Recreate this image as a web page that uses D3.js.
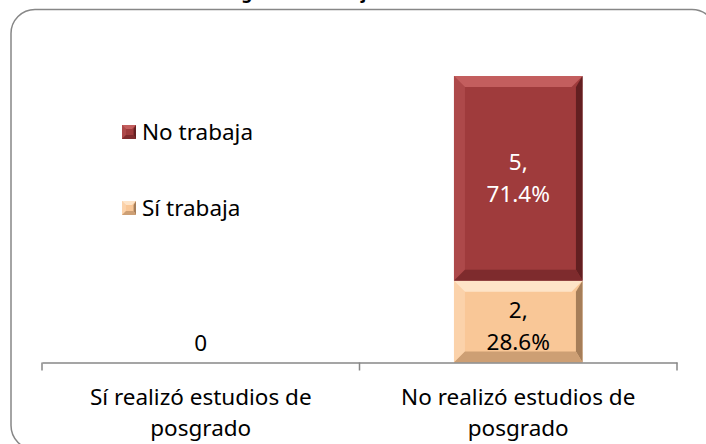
<!DOCTYPE html>
<head>
  <meta charset="utf-8">
  <script src='https://d3js.org/d3.v7.min.js'></script>
  <style>
    body {
      font-family: "Noto Sans", "Open Sans", Arial, sans-serif;
      margin: 0;
      background: #fff;
    }
  </style>
</head>

<body>
<div id='vis'></div>

<script>
const categories = ['Sí realizó estudios de posgrado', 'No realizó estudios de posgrado'];
const seriesNames = ['Sí trabaja', 'No trabaja'];
const siTrabaja = [0, 2];
const noTrabaja = [0, 5];
const pctSi = ['', '28.6%'];
const pctNo = ['', '71.4%'];

const width = 706;
const height = 444;
const fontSize = '22.5px';

const colours = {
  'No trabaja': { main: '#9f3b3c', light: '#c35e5e', dark: '#5c1d1e', bottom: '#7a2a2b' },
  'Sí trabaja': { main: '#f9c797', light: '#fee4c8', dark: '#9c7552', bottom: '#c89a70' }
};

const svg = d3.select('#vis').append('svg')
  .attr('width', width)
  .attr('height', height);

// chart frame
svg.append('rect')
  .attr('x', 11).attr('y', 9.5)
  .attr('width', 705).attr('height', 440)
  .attr('rx', 24).attr('ry', 24)
  .attr('fill', 'none')
  .attr('stroke', '#878787')
  .attr('stroke-width', 1.5);

// title, cut by the top of the picture as in the source
svg.append('text')
  .attr('x', 358).attr('y', -1)
  .attr('text-anchor', 'middle')
  .style('font-weight', 'bold')
  .style('font-size', '17px')
  .text('Figura 26. Trabaja actualmente');

const x = d3.scaleBand()
  .domain(categories)
  .range([42, 677])
  .paddingInner(0)
  .paddingOuter(0);

const y = d3.scaleLinear()
  .domain([0, 7])
  .range([362.5, 76]);

const barW = x.bandwidth() * 0.405;

const stacked = d3.stack().keys(seriesNames)(categories.map((c, i) => ({
  cat: c, 'Sí trabaja': siTrabaja[i], 'No trabaja': noTrabaja[i]
})));

function bevelBar(g, x0, y0, w, h, col, b) {
  const x1 = x0 + w, y1 = y0 + h;
  g.append('rect').attr('x', x0).attr('y', y0).attr('width', w).attr('height', h).attr('fill', col.main);
  const poly = (pts, fill, op) => g.append('polygon')
    .attr('points', pts.map(p => p.join(',')).join(' '))
    .attr('fill', fill).attr('opacity', op);
  poly([[x0, y0], [x1, y0], [x1 - b, y0 + b], [x0 + b, y0 + b]], col.light, 1);
  poly([[x0, y0], [x0 + b, y0 + b], [x0 + b, y1 - b], [x0, y1]], col.light, 0.4);
  poly([[x1, y0], [x1, y1], [x1 - b * 0.6, y1 - b], [x1 - b * 0.6, y0 + b]], col.dark, 0.9);
  poly([[x0, y1], [x0 + b, y1 - b], [x1 - b * 0.6, y1 - b], [x1, y1]], col.bottom, 0.9);
}

const bars = svg.append('g');
stacked.forEach(layer => {
  layer.forEach((d, i) => {
    const v = d[1] - d[0];
    if (v <= 0) return;
    const x0 = x(categories[i]) + (x.bandwidth() - barW) / 2;
    bevelBar(bars, x0, y(d[1]), barW, y(d[0]) - y(d[1]), colours[layer.key], 11);
  });
});

// data labels
const labels = svg.append('g').style('font-size', fontSize).attr('text-anchor', 'middle');
categories.forEach((c, i) => {
  const cx = x(c) + x.bandwidth() / 2;
  const total = siTrabaja[i] + noTrabaja[i];
  if (total === 0) {
    labels.append('text').attr('x', cx).attr('y', y(0) - 12).text('0');
    return;
  }
  const midSi = (y(0) + y(siTrabaja[i])) / 2;
  const midNo = (y(siTrabaja[i]) + y(total)) / 2;
  labels.append('text').attr('x', cx).attr('y', midSi - 4).text(siTrabaja[i] + ',');
  labels.append('text').attr('x', cx).attr('y', midSi + 28).text(pctSi[i]);
  labels.append('text').attr('x', cx).attr('y', midNo - 8).attr('fill', '#fff').text(noTrabaja[i] + ',');
  labels.append('text').attr('x', cx).attr('y', midNo + 24).attr('fill', '#fff').text(pctNo[i]);
});

// category axis
const axis = svg.append('g').attr('transform', `translate(0,${y(0)})`)
  .call(d3.axisBottom(x).tickSize(0).tickFormat(''));
axis.select('.domain').attr('stroke', '#878787').attr('stroke-width', 1.5);
const tickPos = [42, x(categories[1]), 677];
svg.append('g').selectAll('line').data(tickPos).join('line')
  .attr('x1', d => d).attr('x2', d => d)
  .attr('y1', y(0)).attr('y2', y(0) + 8)
  .attr('stroke', '#878787').attr('stroke-width', 1.5);

const catText = svg.append('g').style('font-size', fontSize).attr('text-anchor', 'middle');
categories.forEach(c => {
  const cx = x(c) + x.bandwidth() / 2;
  const words = c.split(' ');
  catText.append('text').attr('x', cx).attr('y', 405).text(words.slice(0, -1).join(' '));
  catText.append('text').attr('x', cx).attr('y', 436).text(words[words.length - 1]);
});

// legend
const legend = svg.append('g');
['No trabaja', 'Sí trabaja'].forEach((k, i) => {
  const ly = 125 + i * 76;
  bevelBar(legend, 122, ly, 14, 14, colours[k], 4);
  legend.append('text').attr('x', 142).attr('y', ly + 15)
    .style('font-size', fontSize).text(k);
});
</script>
</body>
